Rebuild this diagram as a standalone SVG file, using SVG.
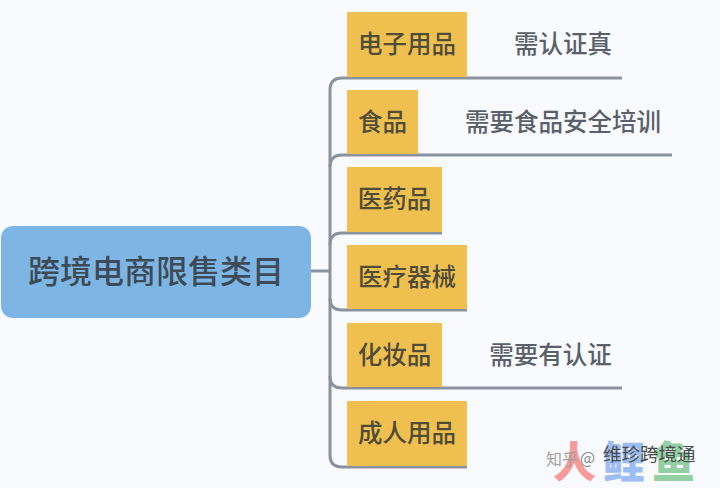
<svg xmlns="http://www.w3.org/2000/svg" width="720" height="488" viewBox="0 0 720 488">
<defs><style>
text{font-family:"Noto Sans CJK SC","Liberation Sans",sans-serif}
.n{fill:#efc050}
.t{font-size:24.500px;font-weight:500;fill:#4f4c38;text-anchor:middle}
.l{font-size:24.500px;font-weight:500;fill:#596069;text-anchor:middle}
.c{fill:none;stroke:#8a929f;stroke-width:3}
.m{font-size:43px;font-weight:900}
</style></defs>
<rect width="720" height="488" fill="#f8fafd"/>
<g id="connectors">
<path class="c" d="M311 271H330"/>
<path class="c" d="M622 78H342Q330 78 330 90V455Q330 467 342 467H467"/>
<path class="c" d="M672 155H342Q330 155 330 167"/>
<path class="c" d="M442 233H342Q330 233 330 245"/>
<path class="c" d="M330 298Q330 310 342 310H467"/>
<path class="c" d="M622 388H342Q330 388 330 376"/>
</g>
<g id="root"><rect x="1" y="226" width="310" height="92" rx="12" fill="#7db6e4"/><text x="156" y="283" text-anchor="middle" font-size="32" font-weight="500" fill="#3e4a55">跨境电商限售类目</text></g>
<g id="n1"><rect class="n" x="347" y="12" width="120" height="65"/><text class="t" x="407" y="53">电子用品</text></g>
<g id="n2"><rect class="n" x="347" y="90" width="71" height="64"/><text class="t" x="382.500" y="131">食品</text></g>
<g id="n3"><rect class="n" x="347" y="167" width="95" height="65"/><text class="t" x="394.500" y="208">医药品</text></g>
<g id="n4"><rect class="n" x="347" y="245" width="120" height="64"/><text class="t" x="407" y="286">医疗器械</text></g>
<g id="n5"><rect class="n" x="347" y="323" width="95" height="64"/><text class="t" x="394.500" y="364">化妆品</text></g>
<g id="n6"><rect class="n" x="347" y="401" width="120" height="65"/><text class="t" x="407" y="442">成人用品</text></g>
<g id="note1"><text class="l" x="563" y="53">需认证真</text></g>
<g id="note2"><text class="l" x="563" y="131">需要食品安全培训</text></g>
<g id="note3"><text class="l" x="550.500" y="364">需要有认证</text></g>
<g id="watermark">
<text class="m" x="553" y="478" fill="#f79a9a">人</text>
<text class="m" x="602" y="478" fill="#9dbdf5">鲤</text>
<text class="m" x="652" y="478" fill="#93cfa3">鱼</text>
<text x="546" y="465" font-size="16" fill="#a0a0a0">知乎</text>
<text x="580" y="464" font-size="16" fill="#8a8a8a">@</text>
<text x="603" y="461" font-size="18.500" fill="#4a4a4a">维珍跨境通</text>
</g>
</svg>
